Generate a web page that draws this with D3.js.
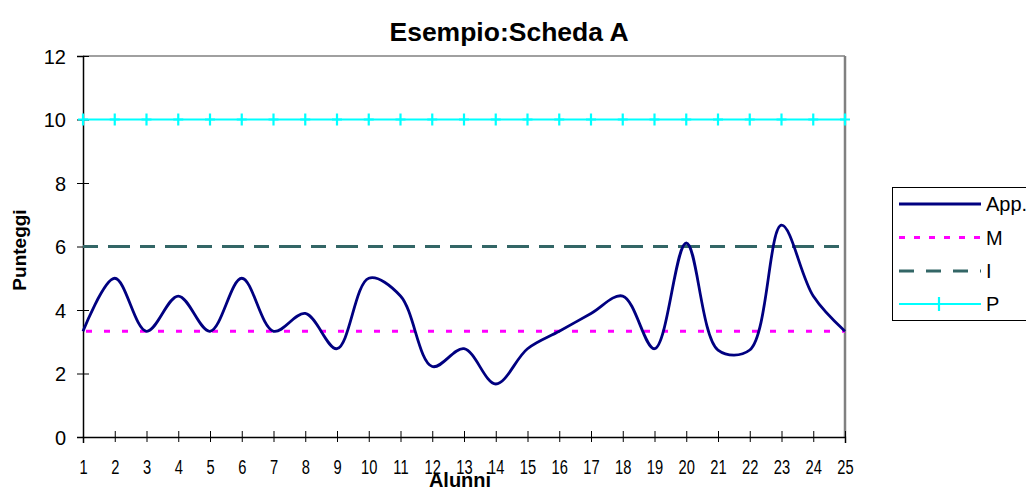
<!DOCTYPE html>
<html><head><meta charset="utf-8">
<script src="https://cdn.jsdelivr.net/npm/d3@7"></script>
<style>
body{margin:0;background:#fff;}
text{font-family:"Liberation Sans",Arial,sans-serif;fill:#000;}
</style></head>
<body><svg id="c" width="1026" height="488"></svg>
<script>
const alunni = d3.range(1, 26);
const app = [3.33,5,3.33,4.44,3.33,5,3.33,3.89,2.78,5,4.44,2.22,2.78,1.67,2.78,3.33,3.89,4.44,2.78,6.11,2.74,2.74,6.67,4.44,3.33];
const mVal = 3.33, iVal = 6, pVal = 10;
const yTicks = [0,2,4,6,8,10,12];
const seriesNames = ["App.","M","I","P"];

const svg = d3.select("#c");
const x = d3.scaleLinear().domain([1,25]).range([83,845]);
const y = d3.scaleLinear().domain([0,12]).range([437,56]);

// frame top/right
svg.append("line").attr("x1",83).attr("x2",845).attr("y1",y(12)).attr("y2",y(12)).attr("stroke","#808080").attr("stroke-width",1.5);
svg.append("line").attr("x1",845).attr("x2",845).attr("y1",y(12)).attr("y2",y(0)).attr("stroke","#808080").attr("stroke-width",2.5);

// y axis
const ya = svg.append("g").attr("transform","translate(83,0)")
  .call(d3.axisLeft(y).tickValues(yTicks).tickSize(6).tickPadding(11));
ya.attr("font-size",null);
ya.select(".domain").attr("stroke","#000").attr("stroke-width",1.5);
ya.selectAll(".tick line").attr("x2",6).attr("x1",-6).attr("stroke","#000");
ya.selectAll(".tick text").style("font-size","20px").attr("dy","0.35em").attr("x",-17);

// x axis
const xa = svg.append("g").attr("transform","translate(0,437)")
  .call(d3.axisBottom(x).tickValues(alunni).tickFormat(d3.format("d")).tickSize(6));
xa.attr("font-size",null);
xa.select(".domain").attr("stroke","#000").attr("stroke-width",1.5);
xa.selectAll(".tick line").attr("y1",-6).attr("y2",5).attr("stroke","#000");
xa.selectAll(".tick text").style("font-size","21px").attr("dy",null).attr("y",37).attr("transform","scale(0.7,1)");

// horizontal reference lines
svg.append("line").attr("x1",x(1)).attr("x2",x(25)).attr("y1",y(pVal)).attr("y2",y(pVal)).attr("stroke","#00FFFF").attr("stroke-width",2);
svg.selectAll(".pm").data(alunni).join("path").attr("class","pm")
  .attr("d",d=>`M${x(d)-5},${y(pVal)}h10M${x(d)},${y(pVal)-6}v12`)
  .attr("stroke","#00FFFF").attr("stroke-width",2.2);
svg.append("line").attr("x1",x(1)).attr("x2",x(25)).attr("y1",y(iVal)).attr("y2",y(iVal)).attr("stroke","#336666").attr("stroke-width",3).attr("stroke-dasharray","15,10,22,10");
svg.append("line").attr("x1",x(1)).attr("x2",x(25)).attr("y1",y(mVal)).attr("y2",y(mVal)).attr("stroke","#FF00FF").attr("stroke-width",3).attr("stroke-dasharray","0,3,6,9");

// App. curve
const line = d3.line().x((d,i)=>x(alunni[i])).y(d=>y(d)).curve(d3.curveCatmullRom.alpha(0.5));
svg.append("path").datum(app).attr("d",line).attr("fill","none").attr("stroke","#000080").attr("stroke-width",2.8);

// title & labels
svg.append("text").attr("x",509).attr("y",41).attr("text-anchor","middle").style("font-size","26.5px").style("font-weight","bold").text("Esempio:Scheda A");
svg.append("text").attr("transform","translate(26,250) rotate(-90)").attr("text-anchor","middle").style("font-size","19px").style("font-weight","bold").text("Punteggi");
svg.append("text").attr("x",460).attr("y",487).attr("text-anchor","middle").style("font-size","20px").style("font-weight","bold").text("Alunni");

// legend
const lg = svg.append("g");
lg.append("rect").attr("x",892.5).attr("y",187.5).attr("width",140).attr("height",133).attr("fill","#fff").attr("stroke","#000").attr("stroke-width",1);
const ly = [204,237.5,271,304];
const styles = [
  {c:"#000080",w:2.8,d:null},
  {c:"#FF00FF",w:3,d:"6,9"},
  {c:"#336666",w:3,d:"15,12"},
  {c:"#00FFFF",w:2,d:null}
];
seriesNames.forEach((n,i)=>{
  lg.append("line").attr("x1",899).attr("x2",981).attr("y1",ly[i]).attr("y2",ly[i])
    .attr("stroke",styles[i].c).attr("stroke-width",styles[i].w).attr("stroke-dasharray",styles[i].d);
  lg.append("text").attr("x",986).attr("y",ly[i]+7).style("font-size","20px").text(n);
});
lg.append("path").attr("d",`M934,${ly[3]}h10M939,${ly[3]-7}v14`).attr("stroke","#00FFFF").attr("stroke-width",2.2);
</script></body></html>
